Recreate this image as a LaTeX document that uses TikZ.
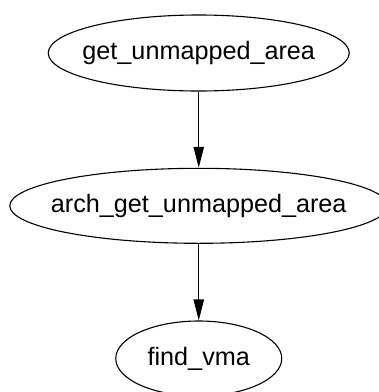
\documentclass[tikz,border=0pt]{standalone}
\usepackage{fontspec}
\setmainfont{Liberation Sans}
\usetikzlibrary{arrows.meta,shapes.geometric}
\begin{document}
\begin{tikzpicture}[x=0.5pt,y=-0.5pt,
  fn/.style={draw=black, line width=0.55pt, ellipse, inner sep=0pt},
  every label/.style={font=\fontsize{12.6pt}{14pt}\selectfont, inner sep=0pt, text height=0.75em, text depth=0.1em},
  call/.style={draw=black, line width=0.55pt, -{Triangle[length=10.5pt,width=5.2pt]}}]
\clip (0,0) rectangle (379,392);
\useasboundingbox (0,0) rectangle (379,392);
\node[fn, minimum width=150.5pt, minimum height=38pt, label=center:get\_unmapped\_area] (gua) at (198.75,53) {};
\node[fn, minimum width=189pt, minimum height=37.5pt, label=center:arch\_get\_unmapped\_area] (agua) at (198.75,205.8) {};
\node[fn, minimum width=83pt, minimum height=37.5pt, label=center:find\_vma] (fv) at (198.75,358.5) {};
\draw[call] (gua) -- (agua);
\draw[call] (agua) -- (fv);
\end{tikzpicture}
\end{document}
